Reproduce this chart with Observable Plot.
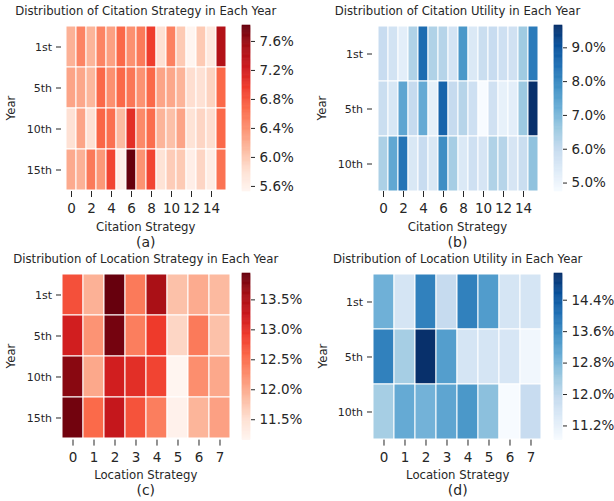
<!DOCTYPE html>
<html>
<head>
<meta charset="utf-8">
<script src="https://cdn.jsdelivr.net/npm/d3@7"></script>
<script src="https://cdn.jsdelivr.net/npm/@observablehq/plot@0.6"></script>
<style>
  html, body { margin: 0; padding: 0; background: white; }
  #chart { position: relative; width: 614px; height: 501px; overflow: hidden; background: white;
           font-family: "DejaVu Sans", sans-serif; color: #262626; }
  #chart > svg, #chart > div { position: absolute; }
  .lbl { white-space: nowrap; line-height: 1; transform: translate(-50%, -50%); }
  .rot { white-space: nowrap; line-height: 1; transform: translate(-50%, -50%) rotate(-90deg); }
</style>
</head>
<body>
<div id="chart"></div>
<script>
// ---------- data ----------
const yearsCitationStrategy = ["1st", "5th", "10th", "15th"];
const yearsCitationUtility = ["1st", "5th", "10th"];
const yearsLocationStrategy = ["1st", "5th", "10th", "15th"];
const yearsLocationUtility = ["1st", "5th", "10th"];

const citationStrategies = [0, 1, 2, 3, 4, 5, 6, 7, 8, 9, 10, 11, 12, 13, 14, 15];
const locationStrategies = [0, 1, 2, 3, 4, 5, 6, 7];

const citationTickLabels = [0, 2, 4, 6, 8, 10, 12, 14];
const locationTickLabels = [0, 1, 2, 3, 4, 5, 6, 7];

// values in percent, rows = years, columns = strategies
const citationStrategyValues = [
  [6.17, 6.49, 6.15, 6.49, 6.29, 6.68, 6.40, 6.56, 6.95, 5.80, 6.51, 5.99, 5.53, 5.99, 5.69, 7.43],
  [6.26, 6.24, 6.13, 6.68, 6.40, 6.68, 6.58, 6.39, 6.68, 6.26, 6.24, 6.15, 5.83, 5.80, 5.92, 6.68],
  [5.80, 6.26, 5.80, 6.70, 6.63, 6.10, 7.06, 6.45, 6.65, 6.15, 6.06, 6.26, 5.78, 5.90, 5.83, 6.68],
  [6.22, 6.17, 6.56, 6.35, 6.90, 5.62, 7.82, 6.39, 6.90, 5.78, 5.97, 5.99, 5.62, 5.90, 5.64, 6.61]
];
const citationUtilityValues = [
  [5.92, 5.68, 5.24, 6.32, 8.53, 6.32, 6.22, 5.63, 7.69, 5.43, 5.87, 5.92, 5.78, 5.73, 6.56, 8.24],
  [5.87, 5.53, 7.40, 5.97, 7.30, 5.19, 8.68, 5.97, 6.22, 5.78, 4.75, 5.73, 5.14, 5.24, 6.61, 9.66],
  [6.37, 7.35, 8.38, 5.48, 5.92, 5.48, 7.89, 6.47, 5.43, 5.78, 5.58, 6.32, 6.22, 5.58, 5.87, 6.76]
];
const locationStrategyValues = [
  [12.74, 11.94, 13.94, 12.41, 13.55, 11.80, 11.99, 11.86],
  [13.19, 12.19, 13.86, 12.38, 12.91, 11.60, 12.41, 11.80],
  [13.75, 12.02, 13.19, 13.02, 12.83, 11.16, 12.24, 12.02],
  [13.88, 12.55, 13.30, 12.72, 12.38, 11.22, 11.91, 12.08]
];
const locationUtilityValues = [
  [12.92, 11.56, 13.77, 11.90, 13.77, 13.30, 11.56, 11.56],
  [13.77, 12.32, 15.08, 13.26, 11.56, 11.56, 11.52, 10.97],
  [12.32, 13.04, 12.88, 13.13, 13.38, 12.62, 10.84, 11.86]
];

const citationStrategyBarTicks = [5.6, 6.0, 6.4, 6.8, 7.2, 7.6];
const citationUtilityBarTicks = [5.0, 6.0, 7.0, 8.0, 9.0];
const locationStrategyBarTicks = [11.5, 12.0, 12.5, 13.0, 13.5];
const locationUtilityBarTicks = [11.2, 12.0, 12.8, 13.6, 14.4];

// ---------- styling ----------
const REDS = ["#fff5f0","#fee0d2","#fcbba1","#fc9272","#fb6a4a","#ef3b2c","#cb181d","#a50f15","#67000d"];
const BLUES = ["#f7fbff","#deebf7","#c6dbef","#9ecae1","#6baed6","#4292c6","#2171b5","#08519c","#08306b"];
const FONT = "DejaVu Sans";
const INK = "#262626";

const chart = document.getElementById("chart");

function addText(txt, x, y, size, rotate) {
  const d = document.createElement("div");
  d.className = rotate ? "rot" : "lbl";
  d.textContent = txt;
  d.style.left = x + "px";
  d.style.top = y + "px";
  d.style.fontSize = size + "px";
  chart.appendChild(d);
}

function place(svg, x, y) {
  svg.style.left = x + "px";
  svg.style.top = y + "px";
  chart.appendChild(svg);
}

function panel(o) {
  const {values, years, cats, xticks, cticks, colors, frame, bar, title, xlabel, caption} = o;
  const data = values.flatMap((row, i) => row.map((v, j) => ({year: years[i], strategy: cats[j], value: v})));
  const extent = d3.extent(data, d => d.value);
  const interp = d3.piecewise(d3.interpolateRgb, colors);
  const color = {type: "linear", domain: extent, interpolate: interp};

  const mL = 45, mR = 4, mT = 4, mB = 32;
  const fw = frame.r - frame.l, fh = frame.b - frame.t;
  const heat = Plot.plot({
    width: fw + mL + mR, height: fh + mT + mB,
    marginLeft: mL, marginRight: mR, marginTop: mT, marginBottom: mB,
    style: {fontFamily: FONT, color: INK, background: "transparent", overflow: "visible"},
    x: {type: "band", domain: cats, padding: 0},
    y: {type: "band", domain: years, padding: 0},
    color,
    marks: [
      Plot.cell(data, {x: "strategy", y: "year", fill: "value", stroke: "white", strokeWidth: 1}),
      Plot.axisX({ticks: xticks, tickSize: 6, tickPadding: 6, fontSize: 13.5, label: null}),
      Plot.axisY({tickSize: 5, tickPadding: 4.5, fontSize: 11, label: null})
    ]
  });
  place(heat, frame.l - mL, frame.t - mT);

  // colorbar
  const n = 150;
  const [lo, hi] = extent;
  const strips = d3.range(n).map(i => ({
    y1: lo + (hi - lo) * i / n, y2: lo + (hi - lo) * (i + 1) / n, v: lo + (hi - lo) * (i + 0.5) / n
  }));
  const bw = bar.r - bar.l, bR = 62, bT = 8;
  const cb = Plot.plot({
    width: bw + bR, height: fh + 2 * bT,
    marginLeft: 0, marginRight: bR, marginTop: bT, marginBottom: bT,
    style: {fontFamily: FONT, color: INK, background: "transparent", overflow: "visible"},
    x: {domain: [0, 1], axis: null},
    y: {domain: extent},
    color,
    marks: [
      Plot.rect(strips, {x1: 0, x2: 1, y1: "y1", y2: "y2", fill: "v", stroke: "v", strokeWidth: 0.6}),
      Plot.axisY({anchor: "right", ticks: cticks, tickFormat: d => d.toFixed(1) + "%",
                  tickSize: 4, tickPadding: 5, fontSize: 13.5, label: null})
    ]
  });
  place(cb, bar.l, frame.t - bT);

  const cx = (frame.l + frame.r) / 2;
  addText(title, cx, frame.t - 13, 11.7);
  addText("Year", frame.l - 48.7, (frame.t + frame.b) / 2, 11.7, true);
  addText(xlabel, cx, frame.b + 37, 11.7);
  addText(caption, cx, frame.b + 50.5, 14);
}

panel({
  values: citationStrategyValues, years: yearsCitationStrategy, cats: citationStrategies,
  xticks: citationTickLabels, cticks: citationStrategyBarTicks, colors: REDS,
  frame: {l: 60.5, r: 231, t: 25.3, b: 191.3}, bar: {l: 242, r: 250},
  title: "Distribution of Citation Strategy in Each Year", xlabel: "Citation Strategy", caption: "(a)"
});
panel({
  values: citationUtilityValues, years: yearsCitationUtility, cats: citationStrategies,
  xticks: citationTickLabels, cticks: citationUtilityBarTicks, colors: BLUES,
  frame: {l: 372, r: 543, t: 25.3, b: 191.3}, bar: {l: 554, r: 562},
  title: "Distribution of Citation Utility in Each Year", xlabel: "Citation Strategy", caption: "(b)"
});
panel({
  values: locationStrategyValues, years: yearsLocationStrategy, cats: locationStrategies,
  xticks: locationTickLabels, cticks: locationStrategyBarTicks, colors: REDS,
  frame: {l: 60.5, r: 231, t: 272.7, b: 439.3}, bar: {l: 242, r: 250},
  title: "Distribution of Location Strategy in Each Year", xlabel: "Location Strategy", caption: "(c)"
});
panel({
  values: locationUtilityValues, years: yearsLocationUtility, cats: locationStrategies,
  xticks: locationTickLabels, cticks: locationUtilityBarTicks, colors: BLUES,
  frame: {l: 372.4, r: 543, t: 272.7, b: 439.3}, bar: {l: 554, r: 562},
  title: "Distribution of Location Utility in Each Year", xlabel: "Location Strategy", caption: "(d)"
});
</script>
</body>
</html>
